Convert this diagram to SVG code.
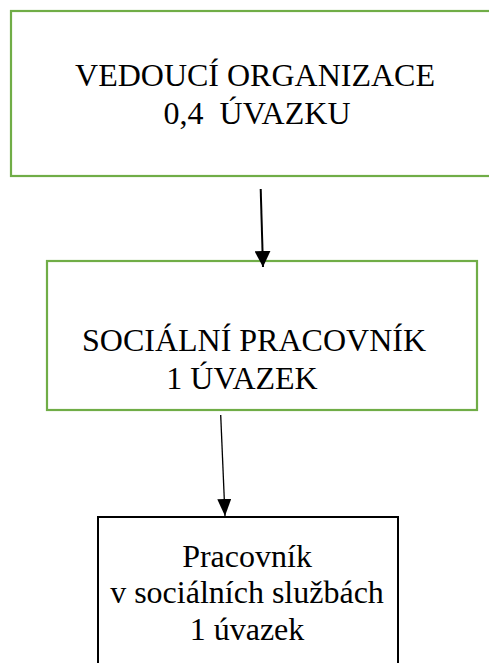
<svg xmlns="http://www.w3.org/2000/svg" width="489" height="663" viewBox="0 0 489 663">
<defs>
<style>
.green{fill:#ffffff;stroke:#70AD47;stroke-width:2.2}
.black{fill:#ffffff;stroke:#000000;stroke-width:2}
text{font-family:"Liberation Serif","Times New Roman",serif;font-size:32px;fill:#000000;text-anchor:middle;white-space:pre}
.conn{stroke:#000000;fill:none}
</style>
<marker id="ah1" markerUnits="userSpaceOnUse" markerWidth="16" markerHeight="16" refX="16" refY="8" orient="auto" viewBox="0 0 16 16"><path d="M0,0 L16,8 L0,16 z" fill="#000"/></marker>
<marker id="ah2" markerUnits="userSpaceOnUse" markerWidth="17" markerHeight="14" refX="17" refY="7" orient="auto" viewBox="0 0 17 14"><path d="M0,0 L17,7 L0,14 z" fill="#000"/></marker>
</defs>
<rect width="489" height="663" fill="#ffffff"/>
<g id="node-vedouci">
<rect class="green" x="11" y="11" width="490" height="165"/>
<text x="255" y="86">VEDOUCÍ ORGANIZACE</text>
<text x="257" y="124">0,4  ÚVAZKU</text>
</g>
<g id="node-socialni">
<rect class="green" x="47" y="261" width="430" height="149"/>
<text x="254" y="351">SOCIÁLNÍ PRACOVNÍK</text>
<text x="242" y="389">1 ÚVAZEK</text>
</g>
<g id="node-pracovnik">
<rect class="black" x="98" y="517" width="300" height="160"/>
<text x="247" y="567">Pracovník</text>
<text x="247" y="603">v sociálních službách</text>
<text x="247" y="640">1 úvazek</text>
</g>
<g id="connectors">
<line class="conn" x1="260.7" y1="189" x2="263" y2="267" stroke-width="2" marker-end="url(#ah1)"/>
<line class="conn" x1="220.7" y1="415" x2="225" y2="516" stroke-width="1.3" marker-end="url(#ah2)"/>
</g>
</svg>
